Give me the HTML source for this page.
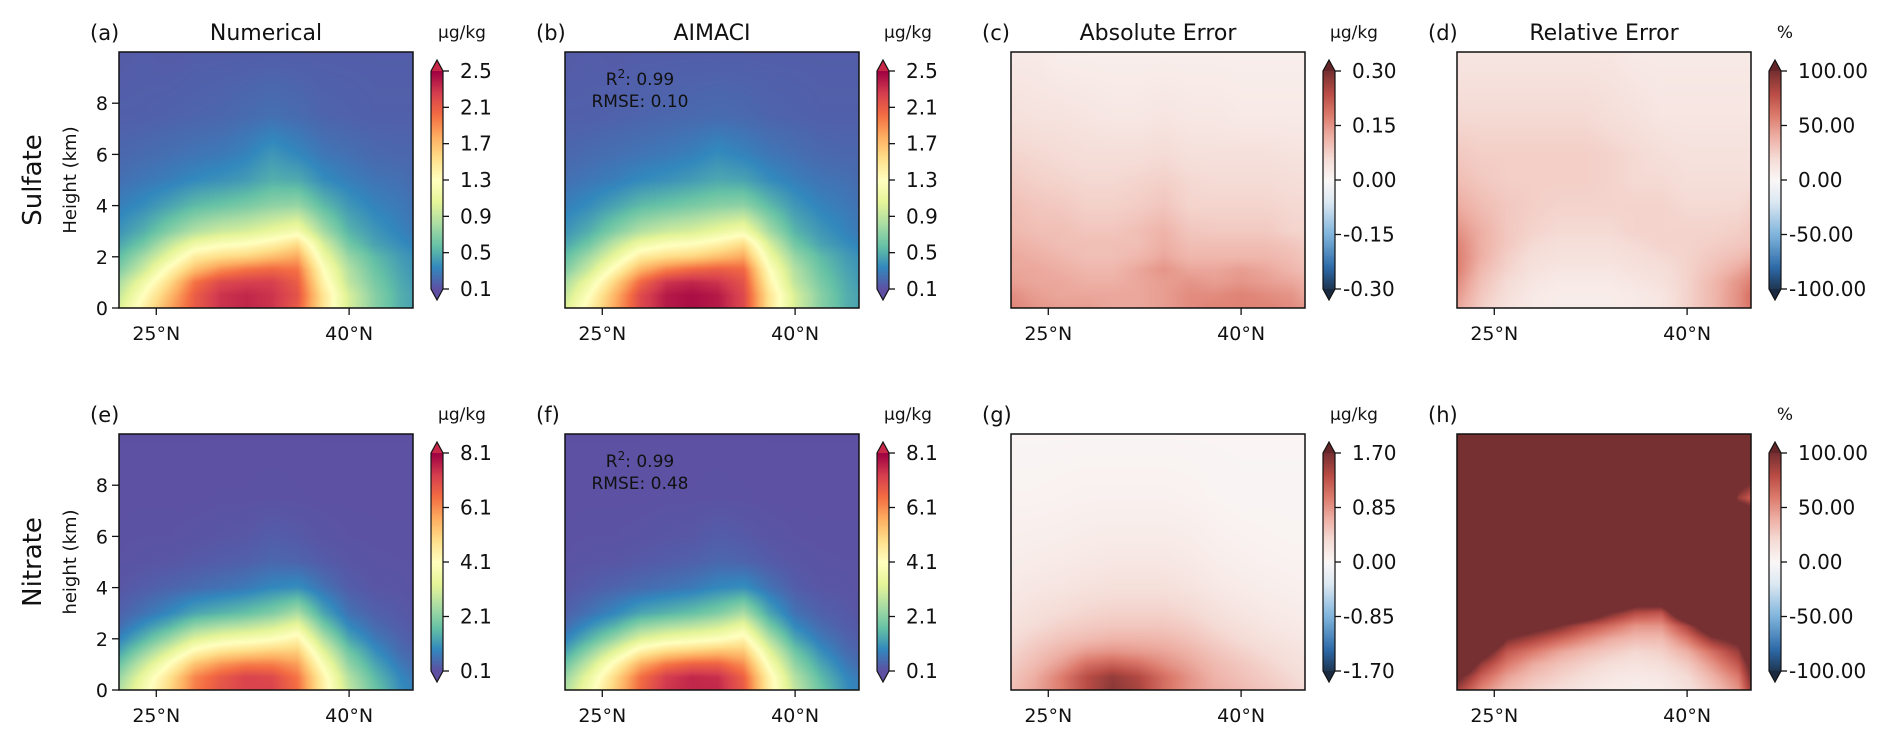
<!DOCTYPE html>
<html><head><meta charset="utf-8">
<style>
html,body{margin:0;padding:0;background:#fff;}
#wrap{position:relative;width:1892px;height:742px;overflow:hidden;font-family:"Liberation Sans",sans-serif;}
canvas{position:absolute;}
svg{position:absolute;left:0;top:0;}
text{font-family:"DejaVu Sans","Liberation Sans",sans-serif;fill:#111;}
</style></head>
<body>
<div id="wrap">
<svg id="ov" width="1892" height="742"></svg>
</div>
<script>
// ---- data ----
const lats = [22,24,26,28,30,32,34,36,38,40,42,44,45];
const heights = [0,0.5,1,1.5,2,2.5,3,4,5,6,7.5,10];
const sulfateNum = [
[1.0,1.4,1.8,2.1,2.3,2.35,2.3,2.1,1.5,1.0,0.7,0.5,0.45],
[0.9,1.3,1.7,2.1,2.3,2.35,2.3,2.15,1.5,1.0,0.7,0.5,0.45],
[0.8,1.15,1.55,2.0,2.2,2.25,2.25,2.1,1.4,0.9,0.65,0.48,0.42],
[0.65,0.95,1.35,1.7,1.9,2.0,2.05,2.0,1.3,0.85,0.6,0.45,0.4],
[0.55,0.8,1.1,1.45,1.55,1.6,1.7,1.8,1.15,0.75,0.55,0.42,0.38],
[0.45,0.62,0.9,1.15,1.25,1.3,1.4,1.55,1.0,0.62,0.45,0.36,0.32],
[0.38,0.5,0.68,0.85,0.95,1.0,1.1,1.2,0.8,0.52,0.4,0.32,0.28],
[0.3,0.36,0.45,0.55,0.6,0.65,0.72,0.75,0.55,0.4,0.32,0.28,0.25],
[0.24,0.27,0.3,0.35,0.38,0.42,0.5,0.48,0.36,0.3,0.26,0.24,0.22],
[0.2,0.22,0.24,0.26,0.28,0.32,0.4,0.34,0.27,0.24,0.21,0.2,0.2],
[0.17,0.17,0.18,0.19,0.2,0.22,0.24,0.22,0.19,0.18,0.17,0.17,0.17],
[0.15,0.16,0.15,0.16,0.16,0.16,0.16,0.16,0.16,0.16,0.16,0.16,0.16]];
const sulfateAI = [
[1.0,1.4,1.8,2.2,2.4,2.45,2.4,2.2,1.5,1.0,0.7,0.5,0.45],
[0.9,1.3,1.75,2.2,2.4,2.45,2.4,2.2,1.5,1.0,0.7,0.5,0.45],
[0.8,1.15,1.6,2.05,2.3,2.35,2.3,2.15,1.4,0.9,0.65,0.48,0.42],
[0.65,0.95,1.35,1.75,1.95,2.05,2.1,2.05,1.3,0.85,0.6,0.45,0.4],
[0.55,0.8,1.1,1.45,1.55,1.6,1.7,1.8,1.15,0.75,0.55,0.42,0.38],
[0.45,0.62,0.9,1.15,1.25,1.3,1.4,1.55,1.0,0.62,0.45,0.36,0.32],
[0.38,0.5,0.68,0.85,0.95,1.0,1.1,1.2,0.8,0.52,0.4,0.32,0.28],
[0.3,0.36,0.45,0.55,0.6,0.65,0.7,0.72,0.55,0.4,0.32,0.28,0.25],
[0.24,0.27,0.3,0.35,0.38,0.42,0.47,0.45,0.36,0.3,0.26,0.24,0.22],
[0.2,0.22,0.24,0.26,0.28,0.31,0.36,0.32,0.27,0.24,0.21,0.2,0.2],
[0.17,0.17,0.18,0.19,0.2,0.21,0.22,0.21,0.19,0.18,0.17,0.17,0.17],
[0.15,0.16,0.15,0.16,0.16,0.16,0.16,0.16,0.16,0.16,0.16,0.16,0.16]];
const sulfateAbs = [
[0.17,0.15,0.14,0.14,0.13,0.13,0.14,0.16,0.17,0.17,0.17,0.16,0.15],
[0.16,0.14,0.13,0.13,0.13,0.13,0.14,0.16,0.16,0.17,0.16,0.15,0.13],
[0.14,0.13,0.13,0.12,0.12,0.13,0.14,0.15,0.14,0.15,0.14,0.13,0.12],
[0.13,0.13,0.12,0.11,0.11,0.13,0.15,0.13,0.13,0.14,0.13,0.11,0.10],
[0.13,0.12,0.11,0.10,0.10,0.11,0.13,0.11,0.11,0.11,0.11,0.10,0.09],
[0.12,0.11,0.10,0.10,0.10,0.10,0.12,0.10,0.10,0.10,0.10,0.09,0.08],
[0.11,0.10,0.10,0.09,0.09,0.10,0.115,0.09,0.085,0.085,0.085,0.07,0.07],
[0.10,0.09,0.085,0.075,0.075,0.08,0.09,0.07,0.07,0.07,0.07,0.065,0.065],
[0.085,0.075,0.07,0.065,0.065,0.07,0.075,0.065,0.06,0.06,0.06,0.055,0.055],
[0.07,0.065,0.06,0.055,0.055,0.055,0.06,0.05,0.05,0.05,0.05,0.045,0.045],
[0.05,0.045,0.045,0.04,0.035,0.035,0.04,0.035,0.035,0.03,0.03,0.03,0.03],
[0.03,0.03,0.02,0.02,0.02,0.02,0.02,0.02,0.02,0.02,0.02,0.02,0.02]];
const sulfateRel = [
[45,26,15,10,8,8,8,10,13,24,36,52,62],
[50,29,18,10,8,8,8,10,13,24,36,52,65],
[55,32,20,13,10,10,10,13,16,24,36,50,58],
[60,36,24,16,13,13,13,16,18,24,32,42,50],
[60,40,26,18,16,16,16,18,21,24,29,34,39],
[58,40,29,21,18,18,18,21,24,24,26,29,31],
[52,40,29,24,21,21,21,24,24,24,24,26,29],
[42,34,29,26,24,24,24,24,24,21,21,21,24],
[34,29,26,26,26,26,24,21,21,18,18,18,18],
[29,26,26,26,26,26,24,21,18,16,16,16,16],
[21,21,21,21,21,21,18,16,13,13,13,13,13],
[13,13,13,13,13,13,13,10,10,10,10,10,10]];
const nitrateNum = [
[2.5,3.8,5.0,6.3,6.9,7.2,7.2,6.5,4.5,2.8,1.8,1.0,0.8],
[2.2,3.5,4.8,6.2,6.8,7.2,7.1,6.4,4.4,2.6,1.6,0.9,0.7],
[1.7,2.9,4.1,5.4,6.0,6.3,6.3,5.9,3.9,2.2,1.3,0.7,0.5],
[1.2,2.2,3.2,4.3,4.8,5.0,5.2,5.2,3.3,1.8,1.0,0.5,0.4],
[0.8,1.5,2.3,3.2,3.6,3.8,4.0,4.4,2.6,1.3,0.7,0.4,0.3],
[0.5,1.0,1.5,2.2,2.5,2.7,3.0,3.5,1.9,0.9,0.5,0.3,0.25],
[0.35,0.6,0.9,1.3,1.5,1.7,2.0,2.5,1.3,0.6,0.35,0.25,0.2],
[0.2,0.3,0.4,0.5,0.6,0.7,0.9,1.0,0.6,0.3,0.2,0.18,0.15],
[0.15,0.18,0.2,0.25,0.3,0.35,0.45,0.4,0.28,0.2,0.16,0.15,0.15],
[0.14,0.15,0.15,0.17,0.2,0.22,0.3,0.25,0.18,0.15,0.14,0.14,0.14],
[0.13,0.13,0.13,0.13,0.14,0.14,0.15,0.14,0.13,0.13,0.13,0.13,0.13],
[0.12,0.12,0.12,0.12,0.12,0.12,0.12,0.12,0.12,0.12,0.12,0.12,0.12]];
const nitrateAI = [
[2.5,3.8,5.2,6.6,7.4,7.6,7.6,6.8,4.5,2.8,1.8,1.0,0.8],
[2.2,3.5,5.0,6.5,7.3,7.6,7.5,6.7,4.4,2.6,1.6,0.9,0.7],
[1.7,2.9,4.3,5.7,6.4,6.7,6.7,6.1,3.9,2.2,1.3,0.7,0.5],
[1.2,2.2,3.3,4.5,5.0,5.2,5.4,5.3,3.3,1.8,1.0,0.5,0.4],
[0.8,1.5,2.3,3.2,3.6,3.8,4.0,4.4,2.6,1.3,0.7,0.4,0.3],
[0.5,1.0,1.5,2.2,2.5,2.7,3.0,3.5,1.9,0.9,0.5,0.3,0.25],
[0.35,0.6,0.9,1.3,1.5,1.7,2.0,2.5,1.3,0.6,0.35,0.25,0.2],
[0.2,0.3,0.4,0.5,0.6,0.7,0.9,1.0,0.6,0.3,0.2,0.18,0.15],
[0.15,0.18,0.2,0.25,0.3,0.35,0.45,0.4,0.28,0.2,0.16,0.15,0.15],
[0.14,0.15,0.15,0.17,0.2,0.22,0.3,0.25,0.18,0.15,0.14,0.14,0.14],
[0.13,0.13,0.13,0.13,0.14,0.14,0.15,0.14,0.13,0.13,0.13,0.13,0.13],
[0.12,0.12,0.12,0.12,0.12,0.12,0.12,0.12,0.12,0.12,0.12,0.12,0.12]];
const nitrateAbs = [
[0.55,0.75,1.0,1.35,1.6,1.45,1.1,0.85,0.7,0.6,0.5,0.4,0.35],
[0.5,0.7,1.0,1.35,1.55,1.4,1.1,0.85,0.65,0.55,0.45,0.36,0.3],
[0.45,0.6,0.8,1.1,1.2,1.1,0.9,0.75,0.6,0.5,0.4,0.3,0.27],
[0.38,0.52,0.65,0.8,0.85,0.8,0.75,0.65,0.52,0.42,0.33,0.27,0.24],
[0.32,0.43,0.52,0.58,0.64,0.64,0.62,0.54,0.43,0.34,0.27,0.22,0.2],
[0.27,0.34,0.42,0.47,0.5,0.5,0.5,0.45,0.35,0.28,0.22,0.18,0.16],
[0.23,0.29,0.34,0.39,0.42,0.42,0.42,0.37,0.29,0.23,0.18,0.15,0.13],
[0.17,0.21,0.23,0.27,0.29,0.29,0.29,0.25,0.19,0.15,0.12,0.1,0.09],
[0.13,0.15,0.17,0.19,0.21,0.21,0.21,0.18,0.13,0.1,0.08,0.07,0.07],
[0.1,0.11,0.12,0.14,0.15,0.15,0.15,0.13,0.09,0.07,0.06,0.05,0.05],
[0.06,0.06,0.07,0.08,0.08,0.08,0.08,0.07,0.05,0.04,0.04,0.04,0.04],
[0.03,0.03,0.03,0.03,0.03,0.03,0.03,0.03,0.03,0.03,0.03,0.03,0.03]];
const nitrateRel = [
[90,55,35,25,18,12,8,6,8,15,30,50,90],
[110,70,45,32,25,18,12,10,12,20,38,60,100],
[150,90,60,42,32,25,18,15,18,28,50,75,110],
[200,120,75,60,45,35,28,22,25,40,65,90,130],
[200,160,100,85,70,55,42,35,35,60,95,110,150],
[200,200,130,115,100,80,65,50,50,85,130,140,200],
[200,200,170,160,150,130,100,80,75,140,200,200,200],
[200,200,200,200,200,200,200,160,170,200,200,200,200],
[200,200,200,200,200,200,200,200,200,200,200,200,200],
[200,200,200,200,200,200,200,200,200,200,200,200,200],
[200,200,200,200,200,200,200,200,200,200,200,90,70],
[200,200,200,200,200,200,200,200,200,200,200,200,200]];
const sulfTicks = ["0.1","0.5","0.9","1.3","1.7","2.1","2.5"];
const nitTicks = ["0.1","2.1","4.1","6.1","8.1"];
const absS = ["-0.30","-0.15","0.00","0.15","0.30"];
const absN = ["-1.70","-0.85","0.00","0.85","1.70"];
const relT = ["-100.00","-50.00","0.00","50.00","100.00"];
const yTicks = [0,2,4,6,8];
const xTicks = [25,40];

// ---- geometry ----
const LAT0=22.1, LAT1=44.97, W=294, H=256;
const colX=[119,565,1011,1457], rowY=[52,434];
const spectral=[[94,79,162],[50,136,189],[102,194,165],[171,221,164],[230,245,152],[255,255,191],[254,224,139],[253,174,97],[244,109,67],[213,62,79],[158,1,66]];
const redblue=[[0,[31,53,80]],[0.1,[45,106,168]],[0.25,[127,180,220]],[0.4,[220,232,242]],[0.5,[250,247,247]],[0.6,[245,220,214]],[0.7,[238,176,165]],[0.8,[220,122,108]],[0.9,[184,76,69]],[1,[119,48,50]]];
function specCol(t){t=Math.max(0,Math.min(1,t));const f=t*10,i=Math.min(9,Math.floor(f)),r=f-i;return spectral[i].map((c,k)=>Math.round(c+(spectral[i+1][k]-c)*r));}
function rbCol(t){t=Math.max(0,Math.min(1,t));for(let i=0;i<redblue.length-1;i++){const a=redblue[i],b=redblue[i+1];if(t<=b[0]){const r=(t-a[0])/(b[0]-a[0]);return a[1].map((c,k)=>Math.round(c+(b[1][k]-c)*r));}}return redblue[redblue.length-1][1];}
function xS(lat){return (lat-LAT0)/(LAT1-LAT0)*W;}
function yS(h){return H-h/10*H;}
function idx(arr,v){for(let i=0;i<arr.length-1;i++){if(v<=arr[i+1])return [i,(v-arr[i])/(arr[i+1]-arr[i])];}return [arr.length-2,1];}
function sample(g,lat,h){const [i,fx]=idx(lats,lat),[j,fy]=idx(heights,h);const a=g[j][i],b=g[j][i+1],c=g[j+1][i],d=g[j+1][i+1];return (a*(1-fx)+b*fx)*(1-fy)+(c*(1-fx)+d*fx)*fy;}
const wrap=document.getElementById('wrap');
function heat(name,g,x0,y0,vmin,vmax,cmap){
  const cv=document.createElement('canvas');cv.width=W;cv.height=H;
  
  
  cv.style.left=x0+'px';cv.style.top=y0+'px';
  const ctx=cv.getContext('2d');const im=ctx.createImageData(W,H);
  for(let py=0;py<H;py++){const h=(H-py-0.5)/H*10;for(let px=0;px<W;px++){const lat=LAT0+(px+0.5)/W*(LAT1-LAT0);
    const v=sample(g,lat,h);const c=cmap((v-vmin)/(vmax-vmin));const o=(py*W+px)*4;im.data[o]=c[0];im.data[o+1]=c[1];im.data[o+2]=c[2];im.data[o+3]=255;}}
  ctx.putImageData(im,0,0);wrap.insertBefore(cv,wrap.firstChild);
}
function cbar(name,x,y0,y1,cmap){
  const cv=document.createElement('canvas');cv.width=12;cv.height=y1-y0;
  
  
  cv.style.left=x+'px';cv.style.top=y0+'px';
  const ctx=cv.getContext('2d');
  for(let p=0;p<y1-y0;p++){const c=cmap(1-p/(y1-y0));ctx.fillStyle='rgb('+c+')';ctx.fillRect(0,p,12,1);}
  wrap.insertBefore(cv,wrap.firstChild);
}
const ov=document.getElementById('ov');const NS='http://www.w3.org/2000/svg';
function el(tag,attrs,txt){const e=document.createElementNS(NS,tag);for(const k in attrs)e.setAttribute(k,attrs[k]);if(txt!==undefined)e.textContent=txt;ov.appendChild(e);return e;}

const panels=[
 {id:'a',r:0,c:0,g:sulfateNum,min:0.1,max:2.5,seq:true,ticks:sulfTicks,unit:'μg/kg',title:'Numerical'},
 {id:'b',r:0,c:1,g:sulfateAI,min:0.1,max:2.5,seq:true,ticks:sulfTicks,unit:'μg/kg',title:'AIMACI',stat:['0.99','0.10']},
 {id:'c',r:0,c:2,g:sulfateAbs,min:-0.3,max:0.3,seq:false,ticks:absS,unit:'μg/kg',title:'Absolute Error'},
 {id:'d',r:0,c:3,g:sulfateRel,min:-100,max:100,seq:false,ticks:relT,unit:'%',title:'Relative Error'},
 {id:'e',r:1,c:0,g:nitrateNum,min:0.1,max:8.1,seq:true,ticks:nitTicks,unit:'μg/kg'},
 {id:'f',r:1,c:1,g:nitrateAI,min:0.1,max:8.1,seq:true,ticks:nitTicks,unit:'μg/kg',stat:['0.99','0.48']},
 {id:'g',r:1,c:2,g:nitrateAbs,min:-1.7,max:1.7,seq:false,ticks:absN,unit:'μg/kg'},
 {id:'h',r:1,c:3,g:nitrateRel,min:-100,max:100,seq:false,ticks:relT,unit:'%'}];

panels.forEach(p=>{
  const x0=colX[p.c],y0=rowY[p.r];const cmap=p.seq?specCol:rbCol;
  heat('heatmap-'+p.id,p.g,x0,y0,p.min,p.max,cmap);
  el('rect',{x:x0,y:y0,width:W,height:H,fill:'none',stroke:'#111','stroke-width':1.5,});
  el('text',{x:x0-29,y:y0-12,'font-size':21,},'('+p.id+')');
  if(p.title)el('text',{x:x0+W/2,y:y0-12,'font-size':22,'text-anchor':'middle',},p.title);
  xTicks.forEach(t=>{const x=x0+xS(t);el('line',{x1:x,x2:x,y1:y0+H,y2:y0+H+7,stroke:'#111','stroke-width':1.3});
    el('text',{x:x,y:y0+H+32,'font-size':19,'text-anchor':'middle',},t+'°N');});
  if(p.c===0){yTicks.forEach(t=>{const y=y0+yS(t);el('line',{x1:x0-7,x2:x0,y1:y,y2:y,stroke:'#111','stroke-width':1.3});
    el('text',{x:x0-11,y:y+7,'font-size':19,'text-anchor':'end',},String(t));});}
  if(p.stat){el('text',{x:x0+75,y:y0+33,'font-size':17,'text-anchor':'middle',}).innerHTML='R<tspan dy="-7" font-size="12">2</tspan><tspan dy="7">: '+p.stat[0]+'</tspan>';
    el('text',{x:x0+75,y:y0+55,'font-size':17,'text-anchor':'middle',},'RMSE: '+p.stat[1]);}
  const cx=x0+312,cy0=y0+19,cy1=y0+H-19;
  cbar('colorbar-'+p.id,cx,cy0,cy1,cmap);
  el('polygon',{points:`${cx},${cy0} ${cx+12},${cy0} ${cx+6},${cy0-11}`,fill:p.seq?'rgb(200,40,72)':'rgb(100,38,40)',});
  el('polygon',{points:`${cx},${cy1} ${cx+12},${cy1} ${cx+6},${cy1+11}`,fill:p.seq?'rgb(94,79,162)':'rgb(25,42,65)',});
  el('polygon',{points:`${cx},${cy0} ${cx+6},${cy0-11} ${cx+12},${cy0} ${cx+12},${cy1} ${cx+6},${cy1+11} ${cx},${cy1}`,fill:'none',stroke:'#111','stroke-width':1.2});
  const n=p.ticks.length;
  p.ticks.forEach((t,i)=>{const y=cy1-(cy1-cy0)*i/(n-1);el('line',{x1:cx+12,x2:cx+18,y1:y,y2:y,stroke:'#111','stroke-width':1.3});
    el('text',{x:t.startsWith('-')?cx+20:cx+29,y:y+7,'font-size':20,},t);});
  el('text',{x:cx+(p.unit==='%'?16:31),y:y0-14,'font-size':17,'text-anchor':'middle',},p.unit);
});
el('text',{x:0,y:0,'font-size':26,'text-anchor':'middle',transform:'translate(41,180) rotate(-90)',},'Sulfate');
el('text',{x:0,y:0,'font-size':18,'text-anchor':'middle',transform:'translate(76,180) rotate(-90)',},'Height (km)');
el('text',{x:0,y:0,'font-size':26,'text-anchor':'middle',transform:'translate(41,562) rotate(-90)',},'Nitrate');
el('text',{x:0,y:0,'font-size':18,'text-anchor':'middle',transform:'translate(76,562) rotate(-90)',},'height (km)');
</script>
</body></html>
